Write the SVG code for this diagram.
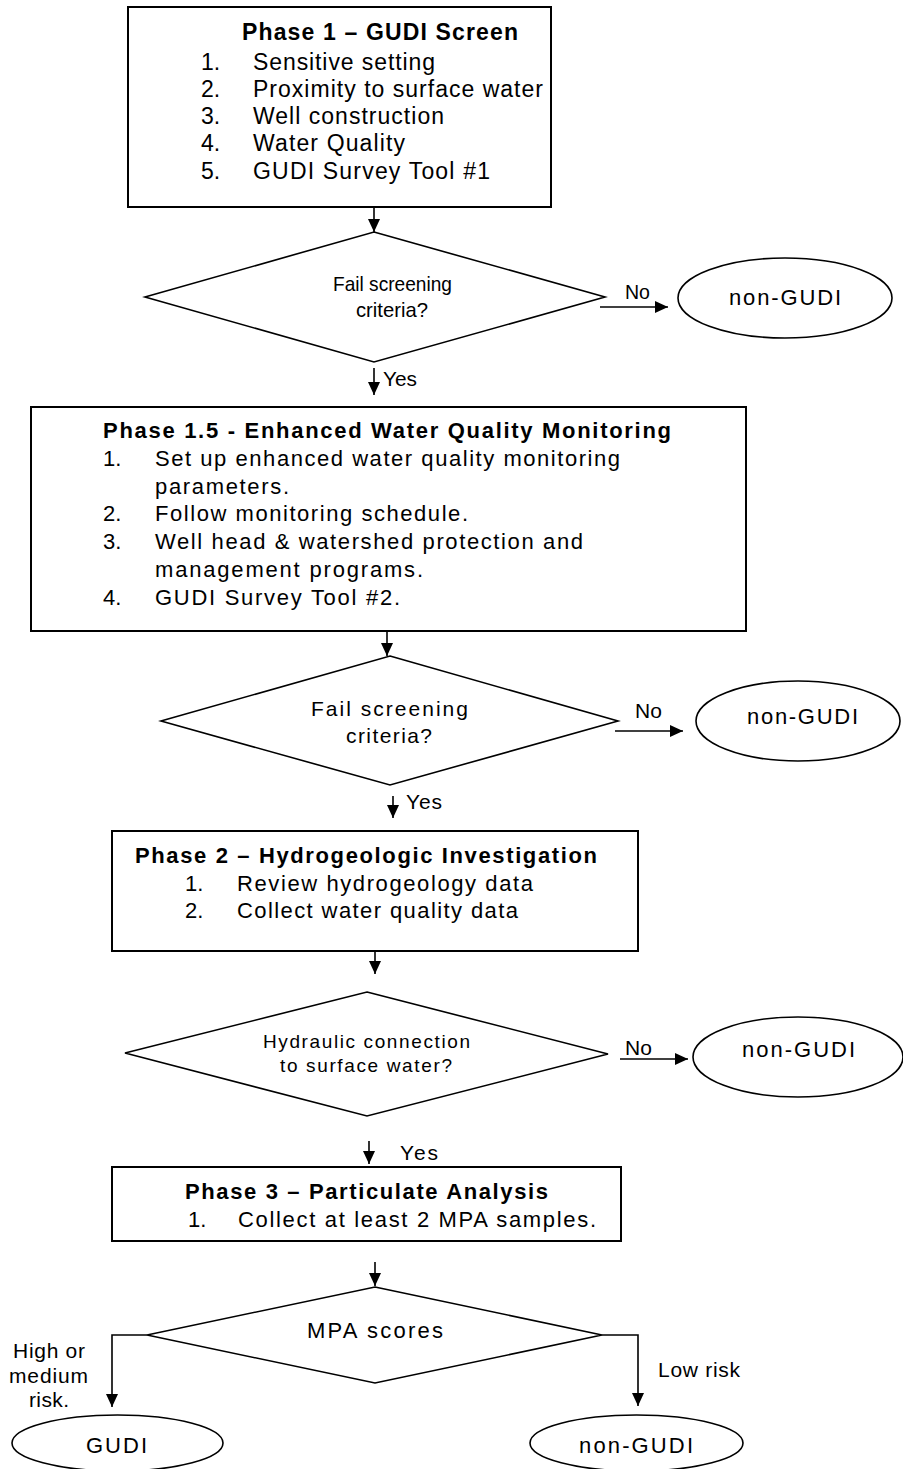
<svg xmlns="http://www.w3.org/2000/svg" width="903" height="1469" viewBox="0 0 903 1469">
<style>
text{font-family:"Liberation Sans",Arial,sans-serif;fill:#000}
.b23{font-size:23px;font-weight:bold}
.r23{font-size:23px}
.b22{font-size:22px;font-weight:bold}
.r22{font-size:22px}
.r21{font-size:21px}
.r19{font-size:19px}
.box{fill:#fff;stroke:#000;stroke-width:2}
.shape{fill:#fff;stroke:#000;stroke-width:1.6}
.con{fill:none;stroke:#000;stroke-width:1.6}
</style>
<defs>
<marker id="ah" markerUnits="userSpaceOnUse" markerWidth="13" markerHeight="12" refX="13" refY="6" orient="auto">
<path d="M0,0 L13,6 L0,12 z" fill="#000"/>
</marker>
</defs>
<rect width="903" height="1469" fill="#fff"/>

<g id="connectors">
<path class="con" d="M374,207 V232" marker-end="url(#ah)"/>
<path class="con" d="M600,307 H668" marker-end="url(#ah)"/>
<path class="con" d="M374,368 V395" marker-end="url(#ah)"/>
<path class="con" d="M387,631 V656" marker-end="url(#ah)"/>
<path class="con" d="M615,731 H683" marker-end="url(#ah)"/>
<path class="con" d="M393,796 V818" marker-end="url(#ah)"/>
<path class="con" d="M375,951 V974" marker-end="url(#ah)"/>
<path class="con" d="M620,1059 H688" marker-end="url(#ah)"/>
<path class="con" d="M369,1141 V1164" marker-end="url(#ah)"/>
<path class="con" d="M375,1262 V1286" marker-end="url(#ah)"/>
<path class="con" d="M147,1335 H112 V1407" marker-end="url(#ah)"/>
<path class="con" d="M602,1335 H638 V1406" marker-end="url(#ah)"/>
<text class="r21" x="625" y="299" textLength="25" lengthAdjust="spacingAndGlyphs">No</text>
<text class="r21" x="383" y="386" textLength="34" lengthAdjust="spacingAndGlyphs">Yes</text>
<text class="r21" x="635" y="718" textLength="27" lengthAdjust="spacing">No</text>
<text class="r21" x="406" y="809" textLength="36" lengthAdjust="spacing">Yes</text>
<text class="r21" x="625" y="1055" textLength="27" lengthAdjust="spacing">No</text>
<text class="r21" x="400" y="1160" textLength="38" lengthAdjust="spacing">Yes</text>
<text class="r21" x="13" y="1358" textLength="72" lengthAdjust="spacing">High or</text>
<text class="r21" x="9" y="1383" textLength="79" lengthAdjust="spacing">medium</text>
<text class="r21" x="29" y="1407" textLength="40" lengthAdjust="spacing">risk.</text>
<text class="r21" x="658" y="1377" textLength="82" lengthAdjust="spacing">Low risk</text>
</g>

<g id="phase1">
<rect class="box" x="128" y="7" width="423" height="200"/>
<text class="b23" x="242" y="40" textLength="276" lengthAdjust="spacing">Phase 1 – GUDI Screen</text>
<text class="r23" x="201" y="70">1.</text>
<text class="r23" x="253" y="70" textLength="182" lengthAdjust="spacing">Sensitive setting</text>
<text class="r23" x="201" y="97">2.</text>
<text class="r23" x="253" y="97" textLength="290" lengthAdjust="spacing">Proximity to surface water</text>
<text class="r23" x="201" y="124">3.</text>
<text class="r23" x="253" y="124" textLength="191" lengthAdjust="spacing">Well construction</text>
<text class="r23" x="201" y="151">4.</text>
<text class="r23" x="253" y="151" textLength="152" lengthAdjust="spacing">Water Quality</text>
<text class="r23" x="201" y="179">5.</text>
<text class="r23" x="253" y="179" textLength="237" lengthAdjust="spacing">GUDI Survey Tool #1</text>
</g>

<g id="decision1">
<polygon class="shape" points="374,232 605,297 374,362 145,297"/>
<text class="r21" x="333" y="291" textLength="119" lengthAdjust="spacingAndGlyphs">Fail screening</text>
<text class="r21" x="356" y="317" textLength="72" lengthAdjust="spacingAndGlyphs">criteria?</text>
</g>

<g id="nongudi1">
<ellipse class="shape" cx="785" cy="298" rx="107" ry="40"/>
<text class="r22" x="729" y="305" textLength="112" lengthAdjust="spacing">non-GUDI</text>
</g>

<g id="phase15">
<rect class="box" x="31" y="407" width="715" height="224"/>
<text class="b22" x="103" y="438" textLength="568" lengthAdjust="spacing">Phase 1.5 - Enhanced Water Quality Monitoring</text>
<text class="r22" x="103" y="466">1.</text>
<text class="r22" x="155" y="466" textLength="465" lengthAdjust="spacing">Set up enhanced water quality monitoring</text>
<text class="r22" x="155" y="494" textLength="134" lengthAdjust="spacing">parameters.</text>
<text class="r22" x="103" y="521">2.</text>
<text class="r22" x="155" y="521" textLength="313" lengthAdjust="spacing">Follow monitoring schedule.</text>
<text class="r22" x="103" y="549">3.</text>
<text class="r22" x="155" y="549" textLength="428" lengthAdjust="spacing">Well head &amp; watershed protection and</text>
<text class="r22" x="155" y="577" textLength="268" lengthAdjust="spacing">management programs.</text>
<text class="r22" x="103" y="605">4.</text>
<text class="r22" x="155" y="605" textLength="245" lengthAdjust="spacing">GUDI Survey Tool #2.</text>
</g>

<g id="decision2">
<polygon class="shape" points="390,656 618,721 390,785 161,721"/>
<text class="r21" x="311" y="716" textLength="157" lengthAdjust="spacing">Fail screening</text>
<text class="r21" x="346" y="743" textLength="86" lengthAdjust="spacing">criteria?</text>
</g>

<g id="nongudi2">
<ellipse class="shape" cx="798" cy="721" rx="102" ry="40"/>
<text class="r22" x="747" y="724" textLength="111" lengthAdjust="spacing">non-GUDI</text>
</g>

<g id="phase2">
<rect class="box" x="112" y="831" width="526" height="120"/>
<text class="b22" x="135" y="863" textLength="462" lengthAdjust="spacing">Phase 2 – Hydrogeologic Investigation</text>
<text class="r22" x="185" y="891">1.</text>
<text class="r22" x="237" y="891" textLength="296" lengthAdjust="spacing">Review hydrogeology data</text>
<text class="r22" x="185" y="918">2.</text>
<text class="r22" x="237" y="918" textLength="281" lengthAdjust="spacing">Collect water quality data</text>
</g>

<g id="decision3">
<polygon class="shape" points="367,992 608,1054 367,1116 125,1053"/>
<text class="r19" x="263" y="1048" textLength="207" lengthAdjust="spacing">Hydraulic connection</text>
<text class="r19" x="280" y="1072" textLength="172" lengthAdjust="spacing">to surface water?</text>
</g>

<g id="nongudi3">
<ellipse class="shape" cx="798" cy="1057" rx="105" ry="40"/>
<text class="r22" x="742" y="1057" textLength="113" lengthAdjust="spacing">non-GUDI</text>
</g>

<g id="phase3">
<rect class="box" x="112" y="1167" width="509" height="74"/>
<text class="b22" x="185" y="1199" textLength="363" lengthAdjust="spacing">Phase 3 – Particulate Analysis</text>
<text class="r22" x="188" y="1227">1.</text>
<text class="r22" x="238" y="1227" textLength="358" lengthAdjust="spacing">Collect at least 2 MPA samples.</text>
</g>

<g id="decision4">
<polygon class="shape" points="375,1287 602,1335 375,1383 147,1335"/>
<text class="r22" x="307" y="1338" textLength="136" lengthAdjust="spacing">MPA scores</text>
</g>

<g id="gudi">
<ellipse class="shape" cx="117.5" cy="1443" rx="105.5" ry="28"/>
<text class="r22" x="86" y="1453" textLength="61" lengthAdjust="spacing">GUDI</text>
</g>

<g id="nongudi4">
<ellipse class="shape" cx="636.5" cy="1443" rx="106.5" ry="28"/>
<text class="r22" x="579" y="1453" textLength="114" lengthAdjust="spacing">non-GUDI</text>
</g>
</svg>
